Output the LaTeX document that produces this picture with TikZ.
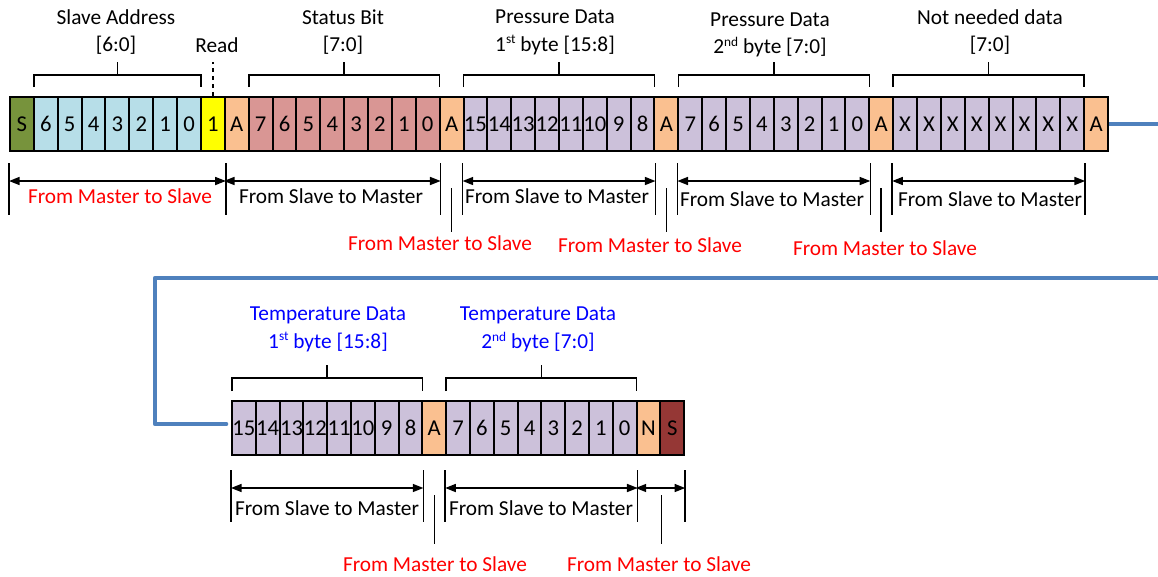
\documentclass[tikz,border=0pt]{standalone}
\usepackage{fontspec}
\setmainfont{Carlito}
\usetikzlibrary{arrows.meta,calc}
\pgfdeclarelayer{background}
\pgfsetlayers{background,main}
\definecolor{cS}{HTML}{77933C}
\definecolor{cAd}{HTML}{B7DEE8}
\definecolor{cY}{HTML}{FFFF00}
\definecolor{cA}{HTML}{FAC090}
\definecolor{cSt}{HTML}{D99694}
\definecolor{cP}{HTML}{CCC1DA}
\definecolor{cE}{HTML}{953735}
\definecolor{busc}{HTML}{4F81BD}
\definecolor{tred}{HTML}{FF0000}
\definecolor{tblue}{HTML}{0000FF}
\newcommand\sups[1]{\raisebox{0.75ex}{\fontsize{10}{10}\selectfont #1}}
\begin{document}
\begin{tikzpicture}[x=0.75pt,y=-0.75pt,
  font=\fontsize{16}{19}\selectfont,
  cell/.style={draw, line width=1.5pt, minimum width=17.9pt, minimum height=40.5pt, inner sep=0pt, font=\fontsize{17}{19}\selectfont},
  lbl/.style={inner sep=0pt},
  rlbl/.style={inner sep=0pt, text=tred},
  blbl/.style={inner sep=0pt, text=tblue},
  brk/.style={line width=1.2pt},
  tick/.style={line width=1.2pt},
  dim/.style={line width=1.2pt, {Triangle[length=8pt,width=6pt]}-{Triangle[length=8pt,width=6pt]}},
  bus/.style={draw=busc, line width=3.5pt, line cap=round, line join=round}]
\useasboundingbox (0,0) rectangle (1158,576);

% ---- top row of cells
\foreach \t/\c [count=\i] in {S/cS,6/cAd,5/cAd,4/cAd,3/cAd,2/cAd,1/cAd,0/cAd,1/cY,A/cA,
  7/cSt,6/cSt,5/cSt,4/cSt,3/cSt,2/cSt,1/cSt,0/cSt,A/cA,
  15/cP,14/cP,13/cP,12/cP,11/cP,10/cP,9/cP,8/cP,A/cA,
  7/cP,6/cP,5/cP,4/cP,3/cP,2/cP,1/cP,0/cP,A/cA,
  X/cP,X/cP,X/cP,X/cP,X/cP,X/cP,X/cP,X/cP,A/cA}
  \node[cell, fill=\c] (t\i) at ({10+(\i-0.5)*23.87},124) {\t};

% ---- bottom row of cells
\foreach \t/\c [count=\i] in {15/cP,14/cP,13/cP,12/cP,11/cP,10/cP,9/cP,8/cP,A/cA,
  7/cP,6/cP,5/cP,4/cP,3/cP,2/cP,1/cP,0/cP,N/cA,S/cE}
  \node[cell, fill=\c] (b\i) at ({232+(\i-0.5)*23.8},428) {\t};

% ---- bus line
\coordinate (busR1) at (1160,124);
\coordinate (busR2) at (1160,278);
\coordinate (busL1) at (155,278);
\coordinate (busL2) at (155,424);
\coordinate (busE) at (226,424);
\begin{pgfonlayer}{background}
\draw[bus] (t46.east) -- (busR1);
\draw[bus] (busR2) -- (busL1) -- (busL2) -- (busE);
\end{pgfonlayer}

% ---- y levels
\coordinate (Ttip) at (0,87);
\coordinate (Tbar) at (0,75);
\coordinate (Btip) at (0,391);
\coordinate (Bbar) at (0,378);
\coordinate (yT1) at (0,163);
\coordinate (yT2) at (0,215);
\coordinate (yTa) at (0,181);
\coordinate (yS1) at (0,188);
\coordinate (yS2) at (0,232);
\coordinate (yB1) at (0,470);
\coordinate (yB2) at (0,522);
\coordinate (yBa) at (0,488);
\coordinate (yU1) at (0,495);
\coordinate (yU2) at (0,544);
\coordinate (yRd) at (0,62);

% ---- brackets
\newcommand\mybrk[3]{%
  \draw[brk] ($(#1.west |- #3tip)+(1,0)$) -- ($(#1.west |- #3bar)+(1,0)$) -- ($(#2.east |- #3bar)+(-1,0)$) -- ($(#2.east |- #3tip)+(-1,0)$);
  \draw[brk] ($(#1.west |- #3bar)!0.5!(#2.east |- #3bar)$) -- ++(0,-13);}
\mybrk{t2}{t8}{T}
\mybrk{t11}{t18}{T}
\mybrk{t20}{t27}{T}
\mybrk{t29}{t36}{T}
\mybrk{t38}{t45}{T}
\mybrk{b1}{b8}{B}
\mybrk{b10}{b17}{B}
\draw[tick, dashed] (t9.north) -- (t9.north |- yRd);

% ---- top labels
\node[lbl] (sa1) at (116,17) {Slave Address};
\node[lbl] (sa2) at (116,45) {[6:0]};
\node[lbl] (rd) at (217,45) {Read};
\node[lbl] (st1) at (343,17) {Status Bit};
\node[lbl] (st2) at (343,45) {[7:0]};
\node[lbl] (p1a) at (555,17) {Pressure Data};
\node[lbl] (p1b) at (555,45) {1\sups{st} byte [15:8]};
\node[lbl] (p2a) at (770,20) {Pressure Data};
\node[lbl] (p2b) at (770,47) {2\sups{nd} byte [7:0]};
\node[lbl] (nn1) at (990,17) {Not needed data};
\node[lbl] (nn2) at (990,45) {[7:0]};
\node[blbl] (tp1a) at (328,315) {Temperature Data};
\node[blbl] (tp1b) at (328,342) {1\sups{st} byte [15:8]};
\node[blbl] (tp2a) at (538,315) {Temperature Data};
\node[blbl] (tp2b) at (538,342) {2\sups{nd} byte [7:0]};

% ---- top direction markers
\foreach \a in {t1.west,t9.east,t18.east,t20.west,t27.east,t29.west,t36.east,t38.west,t45.east}
  \draw[tick] (\a |- yT1) -- (\a |- yT2);
\draw[dim] (t1.west |- yTa) -- (t9.east |- yTa);
\draw[dim] (t10.west |- yTa) -- (t18.east |- yTa);
\draw[dim] (t20.west |- yTa) -- (t27.east |- yTa);
\draw[dim] (t29.west |- yTa) -- (t36.east |- yTa);
\draw[dim] (t38.west |- yTa) -- (t45.east |- yTa);
\foreach \a in {t19,t28,t37}
  \draw[tick] (\a.center |- yS1) -- (\a.center |- yS2);
\node[rlbl] (d1) at (120,196) {From Master to Slave};
\node[lbl] (d2) at (331,196) {From Slave to Master};
\node[lbl] (d3) at (557,196) {From Slave to Master};
\node[lbl] (d4) at (772,199) {From Slave to Master};
\node[lbl] (d5) at (990,199) {From Slave to Master};
\node[rlbl] (m1) at (440,243) {From Master to Slave};
\node[rlbl] (m2) at (650,245) {From Master to Slave};
\node[rlbl] (m3) at (885,248) {From Master to Slave};

% ---- bottom direction markers
\foreach \a in {b1.west,b8.east,b10.west,b17.east,b19.east}
  \draw[tick] (\a |- yB1) -- (\a |- yB2);
\draw[dim] (b1.west |- yBa) -- (b8.east |- yBa);
\draw[dim] (b10.west |- yBa) -- (b17.east |- yBa);
\draw[dim] (b18.west |- yBa) -- (b19.east |- yBa);
\foreach \a in {b9.center,b18.east}
  \draw[tick] (\a |- yU1) -- (\a |- yU2);
\node[lbl] (e1) at (327,508) {From Slave to Master};
\node[lbl] (e2) at (541,508) {From Slave to Master};
\node[rlbl] (m4) at (435,564) {From Master to Slave};
\node[rlbl] (m5) at (659,564) {From Master to Slave};
\end{tikzpicture}
\end{document}
